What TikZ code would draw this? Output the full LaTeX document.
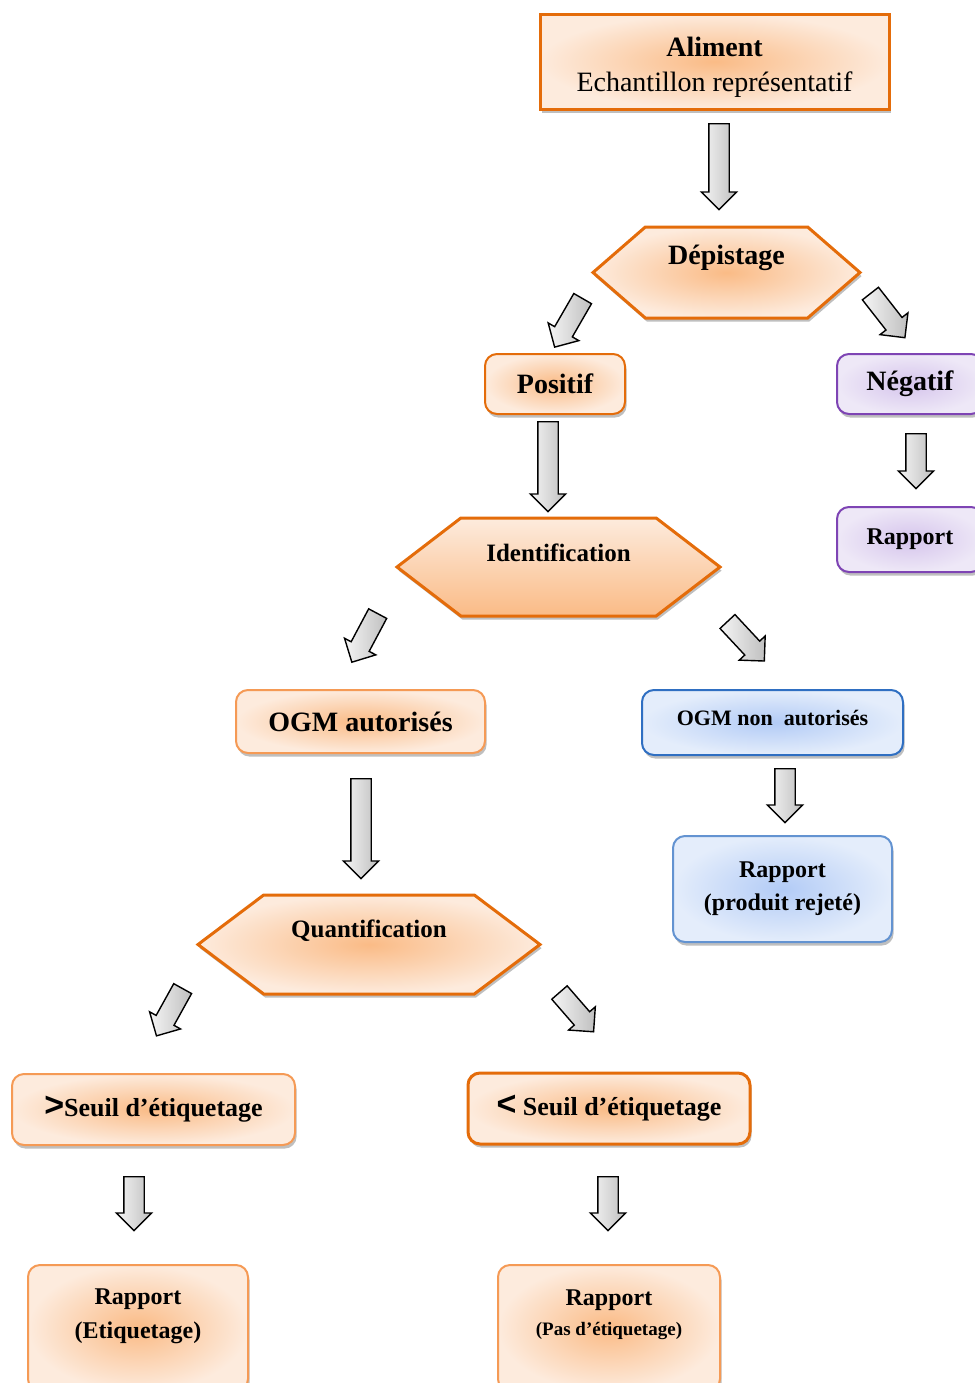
\documentclass[tikz,border=0pt]{standalone}
\usepackage{fontspec}
\setmainfont{Liberation Serif}
\usetikzlibrary{shapes.symbols,shapes.arrows,shadows,positioning}
\definecolor{orfonce}{HTML}{E46C0A}
\definecolor{orclair}{HTML}{F59A55}
\definecolor{orcentre}{HTML}{FABB86}
\definecolor{orpale}{HTML}{FDEBDD}
\definecolor{viobord}{HTML}{7E44B4}
\definecolor{viocentre}{HTML}{D5C4EC}
\definecolor{viopale}{HTML}{EEE8F7}
\definecolor{bleubord}{HTML}{2F6FC2}
\definecolor{bleucentre}{HTML}{B2CBF6}
\definecolor{bleupale}{HTML}{E4EDFB}
\tikzset{
  ombre/.style={drop shadow={shadow xshift=0.8pt,shadow yshift=-1.8pt,opacity=0.25,fill=black}},
  boite/.style={rectangle,rounded corners=6pt,draw=orclair,line width=1pt,ombre,
    inner color=orcentre,outer color=orpale,align=center,font=\bfseries\fontsize{12}{15}\selectfont},
  hexa/.style={signal,signal to=east and west,draw=orfonce,line width=1.5pt,ombre,inner sep=0pt},
  titre/.style={font=\bfseries\fontsize{#1}{15}\selectfont,inner sep=0pt},
  fleche/.style={single arrow,draw=black,line width=0.7pt,inner xsep=0pt,inner ysep=4.75pt,
    minimum width=17pt,single arrow head extend=3.75pt,anchor=tail,
    left color=gray!8,right color=gray!50}
}
\begin{document}
\begin{tikzpicture}[x=0.5pt,y=-0.5pt]
\useasboundingbox (0,0) rectangle (975,1383);
% premiere etape
\node (alim) [boite,rounded corners=0pt,draw=orfonce,line width=1.5pt,
  minimum width=174.5pt,minimum height=47.5pt,font=\fontsize{14}{17.5}\selectfont]
  at (714.5,61.5) {\rule{0pt}{15pt}\textbf{Aliment}\\Echantillon représentatif};
\node (f1) [fleche,rotate=-90,minimum height=43pt] at (719,123) {};
%
\node (dep) [hexa,minimum width=133.5pt,minimum height=45.5pt,signal pointer angle=82,
  inner color=orcentre,outer color=orpale] at (726.5,272.5) {};
\node (dep-t) [titre=14] at ([yshift=7.5pt]dep.center) {Dépistage};
\node (f2) [fleche,rotate=-120,minimum height=28pt] at (583,298) {};
\node (f3) [fleche,rotate=-52,minimum height=28pt] at (870,293) {};
%
\node (pos) [boite,draw=orfonce,minimum width=70pt,minimum height=30pt,
  font=\bfseries\fontsize{14}{15}\selectfont] at (555,384) {Positif};
\node (neg) [boite,draw=viobord,inner color=viocentre,outer color=viopale,
  minimum width=73pt,minimum height=30pt,font=\bfseries\fontsize{14}{15}\selectfont] at (910,384) {Négatif};
\node (f4) [fleche,rotate=-90,minimum height=45pt] at (548,421) {};
\node (f5) [fleche,rotate=-90,minimum height=27.5pt] at (916,433) {};
\node (rapv) [boite,draw=viobord,inner color=viocentre,outer color=viopale,
  minimum width=73pt,minimum height=32.5pt] at (910,539.5) {Rapport};
%
\node (ident) [hexa,minimum width=161.5pt,minimum height=49pt,signal pointer angle=75,
  top color=orpale,bottom color=orcentre] at (558.5,567) {};
\node (ident-t) [titre=12.5] at ([yshift=7pt]ident.center) {Identification};
\node (f6) [fleche,rotate=-118,minimum height=27.5pt] at (378,613) {};
\node (f7) [fleche,rotate=-47,minimum height=27pt] at (727,621) {};
%
\node (ogma) [boite,minimum width=124.5pt,minimum height=31.5pt,
  font=\bfseries\fontsize{14}{15}\selectfont] at (360.5,721.5) {OGM autorisés};
\node (ogmn) [boite,draw=bleubord,inner color=bleucentre,outer color=bleupale,
  minimum width=130.5pt,minimum height=32.5pt,font=\bfseries\fontsize{11}{13}\selectfont]
  at (772.5,722.5) {OGM non~ autorisés\rule[-5pt]{0pt}{5pt}};
\node (f8) [fleche,rotate=-90,minimum height=27pt] at (785,768) {};
\node (rapb) [boite,draw=bleubord!75,inner color=bleucentre,outer color=bleupale,
  minimum width=109.5pt,minimum height=53pt,font=\bfseries\fontsize{12}{16.5}\selectfont]
  at (782.5,889) {Rapport\\(produit rejeté)};
\node (f9) [fleche,rotate=-90,minimum height=50pt] at (361,778) {};
%
\node (quant) [hexa,minimum width=171pt,minimum height=49.5pt,signal pointer angle=74,
  inner color=orcentre,outer color=orpale] at (369,944.5) {};
\node (quant-t) [titre=12.5] at ([yshift=7pt]quant.center) {Quantification};
\node (f10) [fleche,rotate=-119,minimum height=27pt] at (183,988) {};
\node (f11) [fleche,rotate=-49,minimum height=26pt] at (559,992) {};
%
\node (seuilg) [boite,minimum width=141.5pt,minimum height=35.5pt,
  font=\bfseries\fontsize{13}{15}\selectfont] at (153.5,1109.5)
  {{\fontspec{Liberation Sans}\bfseries\fontsize{17}{15}\selectfont >}Seuil d’étiquetage};
\node (seuild) [boite,draw=orfonce,line width=1.5pt,minimum width=141pt,minimum height=35.5pt,
  font=\bfseries\fontsize{13}{15}\selectfont] at (609,1108.5)
  {{\fontspec{Liberation Sans}\bfseries\fontsize{17}{15}\selectfont <} Seuil d’étiquetage};
\node (f12) [fleche,rotate=-90,minimum height=27pt] at (134,1176) {};
\node (f13) [fleche,rotate=-90,minimum height=27pt] at (608,1176) {};
%
\node (rapg) [boite,minimum width=110pt,minimum height=63pt,anchor=north] at (138,1264) {};
\node (rapg-t) [align=center,font=\bfseries\fontsize{12}{17}\selectfont] at (138,1316) {Rapport\\(Etiquetage)};
\node (rapd) [boite,minimum width=111pt,minimum height=63pt,anchor=north] at (609,1264) {};
\node (rapd-t) [align=center,font=\bfseries\fontsize{12}{15}\selectfont] at (609,1315)
  {Rapport\\{\fontsize{9.5}{11}\selectfont (Pas d’étiquetage)}};
\end{tikzpicture}
\end{document}
